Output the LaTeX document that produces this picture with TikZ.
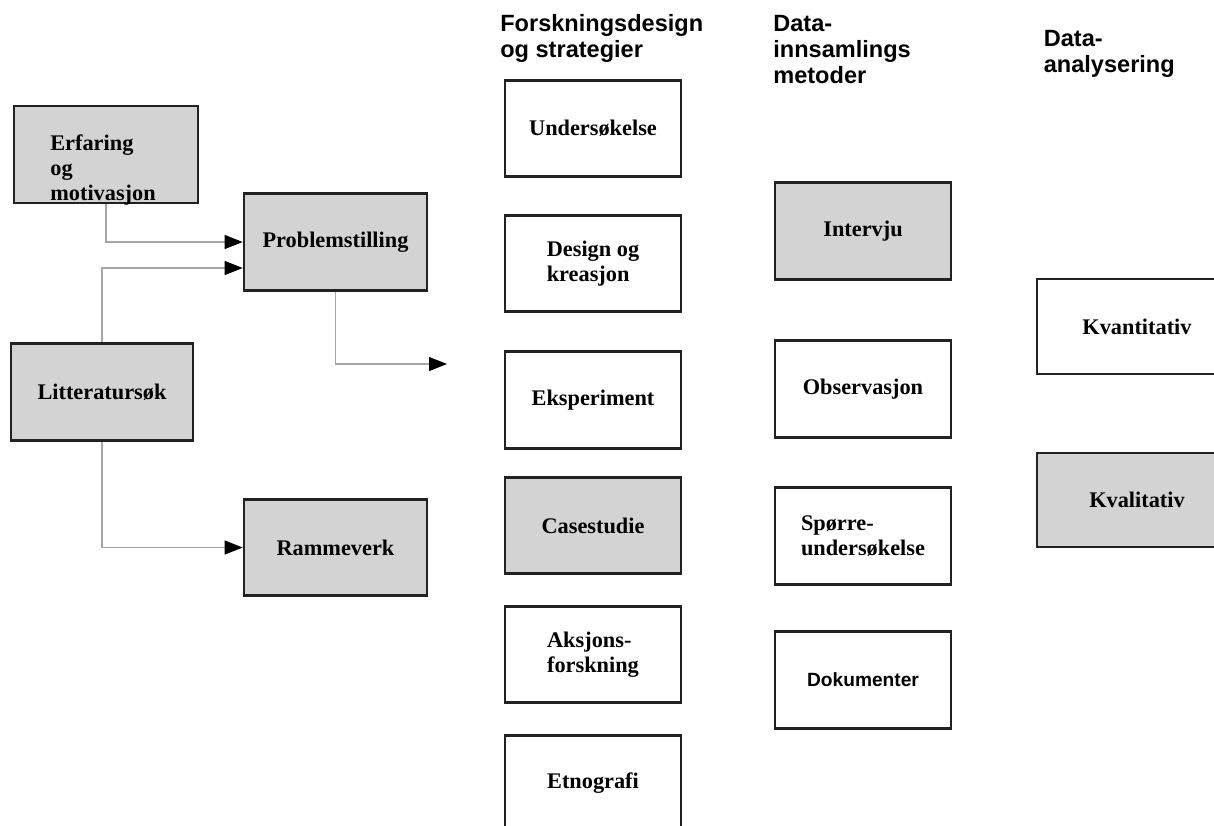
\documentclass[tikz,border=0pt]{standalone}
\usepackage{fontspec}
\setmainfont{Liberation Serif}
\setsansfont{Liberation Sans}
\usetikzlibrary{arrows.meta}
\definecolor{boksgraa}{RGB}{211,211,211}
\definecolor{strek}{RGB}{34,34,34}
\definecolor{linje}{RGB}{165,165,165}
\tikzstyle{tekst} = [font=\fontsize{12.7}{14.2}\selectfont\bfseries]
\tikzstyle{boks} = [rectangle, tekst,
minimum width=3.52cm,
minimum height=1.93cm,
text centered,
align=left,
draw=strek,
line width=1.5pt,
fill=white]
\tikzstyle{gboks} = [boks, fill=boksgraa]
\tikzstyle{overskrift} = [anchor=north west, inner sep=0pt, align=left,
font=\fontsize{13.4}{14.8}\selectfont\sffamily\bfseries]
\tikzstyle{pil} = [draw=linje, line width=0.6pt,
-{Triangle[length=0.36cm, width=0.28cm, color=black]}]
\begin{document}
\begin{tikzpicture}[node distance=2cm]
\useasboundingbox (0,0) rectangle (24.28,-16.5);
\clip (0,0) rectangle (24.28,-16.5);

\node (erf) [gboks, minimum width=3.68cm, minimum height=1.94cm] at (2.12,-3.09) {};
\node (erftekst) [tekst, anchor=north west, inner sep=0pt, align=left] at (1.0,-2.69) {Erfaring\\og\\motivasjon};
\node (prob) [gboks, below of=erf, xshift=4.59cm, yshift=0.25cm, minimum width=3.66cm] {Problemstilling};
\node (lit) [gboks, below of=erf, xshift=-0.08cm, yshift=-2.75cm, minimum width=3.64cm] {Litteratursøk};
\node (ram) [gboks, below of=prob, yshift=-4.11cm, minimum width=3.66cm] {Rammeverk};
\coordinate (videre) at (8.94,-7.28);
\draw[pil] (erf) |- (prob);
\draw[pil] (lit) |- ([yshift=-0.52cm]prob.west);
\draw[pil] (prob) |- (videre);
\draw[pil] (lit) |- (ram);

\node (forsk) [overskrift] at (10.0,-0.28) {Forskningsdesign\\og strategier};
\node (innsam) [overskrift] at (15.46,-0.30) {Data-\\innsamlings\\metoder};
\node (analyse) [overskrift] at (20.87,-0.60) {Data-\\analysering};

\node (und) [boks] at (11.86,-2.57) {Undersøkelse};
\node (des) [boks, below of=und, yshift=-0.70cm] {Design og\\kreasjon};
\node (eks) [boks, below of=des, yshift=-0.73cm] {Eksperiment};
\node (cas) [gboks, below of=eks, yshift=-0.51cm] {Casestudie};
\node (aks) [boks, below of=cas, yshift=-0.58cm] {Aksjons-\\forskning};
\node (etn) [boks, below of=aks, yshift=-0.58cm] {Etnografi};

\node (int) [gboks] at (17.26,-4.62) {Intervju};
\node (obs) [boks, below of=int, yshift=-1.16cm] {Observasjon};
\node (spo) [boks, below of=obs, yshift=-0.94cm] {Spørre-\\undersøkelse};
\node (dok) [boks, below of=spo, yshift=-0.88cm, font=\fontsize{10.9}{12}\selectfont\sffamily\bfseries] {Dokumenter};

\node (kvn) [boks, minimum width=4.0cm, minimum height=1.9cm] at (22.74,-6.53) {Kvantitativ};
\node (kvl) [gboks, below of=kvn, yshift=-1.47cm, minimum width=4.0cm, minimum height=1.88cm] {Kvalitativ};

\end{tikzpicture}
\end{document}
